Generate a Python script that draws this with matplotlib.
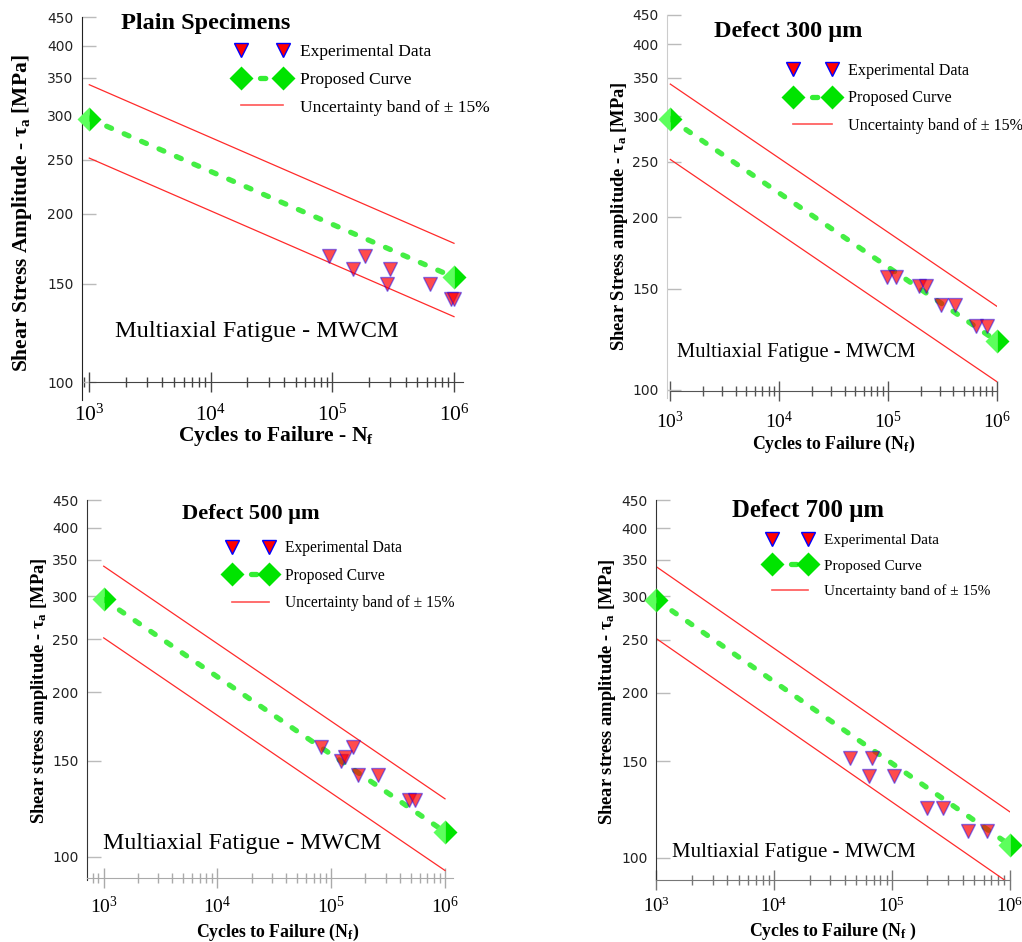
import numpy as np
import matplotlib
matplotlib.use("Agg")
import matplotlib.pyplot as plt
from matplotlib.lines import Line2D
from matplotlib.ticker import LogLocator, NullFormatter, NullLocator

plt.rcParams["font.family"] = ["Liberation Serif", "DejaVu Serif"]
plt.rcParams["mathtext.fontset"] = "custom"
plt.rcParams["mathtext.rm"] = "Liberation Serif"
plt.rcParams["mathtext.it"] = "Liberation Serif:italic"
plt.rcParams["mathtext.bf"] = "Liberation Serif:bold"

W, H = 1022, 942

# values
band = 0.15  # uncertainty band +/- 15 %
curve_n = [1e3, 1e6]
y_ticks = [100, 150, 200, 250, 300, 350, 400, 450]
x_ticks = [1e3, 1e4, 1e5, 1e6]
x_ticklabels = ["$10^{3}$", "$10^{4}$", "$10^{5}$", "$10^{6}$"]

plain_curve = [296, 154]
plain_n = [9.35e4, 1.47e5, 1.86e5, 2.97e5, 2.79e5, 6.34e5, 9.4e5, 1.0e6]
plain_tau = [168, 159, 168, 159, 150, 150, 141, 141]

d300_curve = [296.6, 121.7]
d300_n = [9.75e4, 1.18e5, 1.93e5, 2.24e5, 3.05e5, 4.14e5, 6.46e5, 8.09e5]
d300_tau = [157.6, 157.6, 151.8, 151.8, 140.6, 140.6, 129.4, 129.4]

d500_curve = [296, 111]
d500_n = [8.07e4, 1.23e5, 1.32e5, 1.56e5, 1.73e5, 2.56e5, 4.85e5, 5.44e5]
d500_tau = [159, 150, 152, 159, 141, 141, 127, 127]

d700_curve = [295.6, 105.5]
d700_n = [4.41e4, 6.83e4, 6.43e4, 1.04e5, 1.97e5, 2.73e5, 4.45e5, 6.38e5]
d700_tau = [152, 152, 141, 141, 123, 123, 112, 112]

labels = ["Experimental Data", "Proposed Curve", "Uncertainty band of \u00b1 15%"]

# layout in pixels: x of 1e3, x of 1e6, y of 100, y of 450
panels = [
    dict(curve=plain_curve, n=plain_n, tau=plain_tau, px=(89.3, 454, 382, 17),
         xlim=(871, 1.19e6), ylim=(93, 450), xline=100, xbounds=(1e3, 1.19e6),
         spine_col="#222222", line_col="#444444",
         title="Plain Specimens", title_xy=(206, 23), title_fs=17.5,
         mw_xy=(257, 332), mw_fs=17.5,
         ylabel="Shear Stress Amplitude - \u03c4$_\\mathbf{a}$ [MPa]", ylabel_xy=(22, 213), ylabel_fs=15.5,
         xlabel="Cycles to Failure - N$_\\mathbf{f}$", xlabel_xy=(276, 436), xlabel_fs=15.5,
         leg_xy=(236, 54), leg_fs=12.5, leg_row=31.5, xtick_fs=15.5, xtick_pad=9),
    dict(curve=d300_curve, n=d300_n, tau=d300_tau, px=(670.3, 996.7, 390, 15),
         xlim=(933, 1e6), ylim=(97, 450), xline=99.5, xbounds=(1e3, 1e6),
         spine_col="#cccccc", line_col="#555555",
         title="Defect 300 \u03bcm", title_xy=(788, 31), title_fs=17.5,
         mw_xy=(796, 353), mw_fs=14.8,
         ylabel="Shear Stress amplitude - \u03c4$_\\mathbf{a}$ [MPa]", ylabel_xy=(619, 216), ylabel_fs=13.3,
         xlabel="Cycles to Failure (N$_\\mathbf{f}$)", xlabel_xy=(834, 444), xlabel_fs=12.8,
         leg_xy=(788, 72), leg_fs=11.6, leg_row=30, xtick_fs=14, xtick_pad=7),
    dict(curve=d500_curve, n=d500_n, tau=d500_tau, px=(103.7, 445, 856.7, 500),
         xlim=(713, 1.17e6), ylim=(90.5, 450), xline=91.4, xbounds=(713, 1.17e6),
         spine_col="#333333", line_col="#aaaaaa",
         title="Defect 500 \u03bcm", title_xy=(251, 514), title_fs=16.2,
         mw_xy=(242, 843), mw_fs=17.2,
         ylabel="Shear stress amplitude - \u03c4$_\\mathbf{a}$ [MPa]", ylabel_xy=(40, 691), ylabel_fs=13.3,
         xlabel="Cycles to Failure (N$_\\mathbf{f}$)", xlabel_xy=(278, 932), xlabel_fs=12.8,
         leg_xy=(227, 549), leg_fs=11.2, leg_row=29.5, xtick_fs=14, xtick_pad=6),
    dict(curve=d700_curve, n=d700_n, tau=d700_tau, px=(656.3, 1009.7, 857.7, 500),
         xlim=(1e3, 1e6), ylim=(91, 450), xline=91, xbounds=(1e3, 1e6),
         spine_col="#333333", line_col="#777777",
         title="Defect 700 \u03bcm", title_xy=(808, 510), title_fs=17.8,
         mw_xy=(794, 853), mw_fs=15,
         ylabel="Shear stress amplitude - \u03c4$_\\mathbf{a}$ [MPa]", ylabel_xy=(608, 692), ylabel_fs=13.3,
         xlabel="Cycles to Failure (N$_\\mathbf{f}$ )", xlabel_xy=(833, 931), xlabel_fs=12.8,
         leg_xy=(767, 542), leg_fs=11, leg_row=29.5, xtick_fs=13.5, xtick_pad=5),
]

fig = plt.figure(figsize=(W / 100, H / 100), dpi=100)


def fx(x):
    return x / W


def fy(y):
    return 1 - y / H


def draw_panel(p):
    x3, x6, y100, y450 = p["px"]
    xdec = (x6 - x3) / 3
    ydec = (y100 - y450) / np.log10(4.5)
    left = x3 + (np.log10(p["xlim"][0]) - 3) * xdec
    right = x3 + (np.log10(p["xlim"][1]) - 3) * xdec
    bottom = y100 + (2 - np.log10(p["ylim"][0])) * ydec
    ax = fig.add_axes([fx(left), fy(bottom), (right - left) / W, (bottom - y450) / H])
    ax.set_xscale("log")
    ax.set_yscale("log")
    ax.set_xlim(p["xlim"])
    ax.set_ylim(p["ylim"])

    curve = np.array(p["curve"])
    ax.plot(curve_n, curve * (1 + band), color="#ff2a2a", lw=0.9, zorder=2)
    ax.plot(curve_n, curve * (1 - band), color="#ff2a2a", lw=0.9, zorder=2)
    ax.plot(curve_n, curve, color="#44ee44", lw=3.8, ls=(0, (1.0, 2.6)),
            dash_capstyle="round", zorder=3)
    ax.plot(curve_n, curve, ls="none", marker="D", ms=12.5, fillstyle="left",
            markerfacecolor="#5cff5c", markerfacecoloralt="#00e400",
            markeredgecolor="none", clip_on=False, zorder=4)
    ax.plot(p["n"], p["tau"], ls="none", marker="v", ms=9.5,
            markerfacecolor=(1, 0, 0, 0.7), markeredgecolor=(0, 0, 1, 0.45),
            markeredgewidth=1, clip_on=False, zorder=5)

    # axes styling
    for s in ["top", "right"]:
        ax.spines[s].set_visible(False)
    ax.spines["left"].set_color(p["spine_col"])
    ax.spines["bottom"].set_position(("data", p["xline"]))
    ax.spines["bottom"].set_bounds(*p["xbounds"])
    ax.spines["bottom"].set_color(p["line_col"])

    ax.set_yticks(y_ticks)
    ax.set_yticklabels([str(v) for v in y_ticks], fontfamily="DejaVu Sans", fontsize=10)
    ax.yaxis.set_minor_locator(NullLocator())
    ax.tick_params(axis="y", direction="in", length=10, width=1, color="#bbbbbb",
                   pad=6, labelcolor="#222222")

    ax.set_xticks(x_ticks)
    ax.set_xticklabels(x_ticklabels, fontsize=p["xtick_fs"])
    ax.xaxis.set_minor_locator(LogLocator(base=10, subs=np.arange(2, 10)))
    ax.xaxis.set_minor_formatter(NullFormatter())
    ax.tick_params(axis="x", which="major", direction="inout", length=14, width=1,
                   color=p["line_col"], pad=p["xtick_pad"])
    ax.tick_params(axis="x", which="minor", direction="inout", length=7, width=1,
                   color=p["line_col"])

    # texts
    ax.set_ylabel(p["ylabel"], fontsize=p["ylabel_fs"], fontweight="bold")
    ax.yaxis.set_label_coords(fx(p["ylabel_xy"][0]), fy(p["ylabel_xy"][1]),
                              transform=fig.transFigure)
    ax.yaxis.label.set_verticalalignment("center")
    ax.set_xlabel(p["xlabel"], fontsize=p["xlabel_fs"], fontweight="bold")
    ax.xaxis.set_label_coords(fx(p["xlabel_xy"][0]), fy(p["xlabel_xy"][1]),
                              transform=fig.transFigure)
    ax.xaxis.label.set_verticalalignment("center")

    ax.text(fx(p["title_xy"][0]), fy(p["title_xy"][1]), p["title"], transform=fig.transFigure,
            fontsize=p["title_fs"], fontweight="bold", ha="center", va="center")
    ax.text(fx(p["mw_xy"][0]), fy(p["mw_xy"][1]), "Multiaxial Fatigue - MWCM",
            transform=fig.transFigure, fontsize=p["mw_fs"], ha="center", va="center")

    handles = [
        Line2D([], [], ls="none", marker="v", ms=9.5, markerfacecolor="red",
               markeredgecolor="blue", markeredgewidth=1),
        Line2D([], [], color="#33ee33", lw=3.8, ls=(0, (1.0, 2.6)), dash_capstyle="round",
               marker="D", ms=12.5, markerfacecolor="#00e400", markeredgecolor="none"),
        Line2D([], [], color="#ff5555", lw=1.2),
    ]
    fs_px = p["leg_fs"] * 100 / 72
    text_h = 1.15 * fs_px
    ax.legend(handles, labels, loc="upper left", frameon=False, numpoints=2,
              fontsize=p["leg_fs"], handlelength=3.0, handletextpad=0.7,
              borderpad=0, borderaxespad=0,
              labelspacing=(p["leg_row"] - text_h) / fs_px,
              bbox_to_anchor=(fx(p["leg_xy"][0]), fy(p["leg_xy"][1] - text_h / 2)),
              bbox_transform=fig.transFigure)
    return ax


for p in panels:
    draw_panel(p)

fig.savefig("out.png", dpi=100)
